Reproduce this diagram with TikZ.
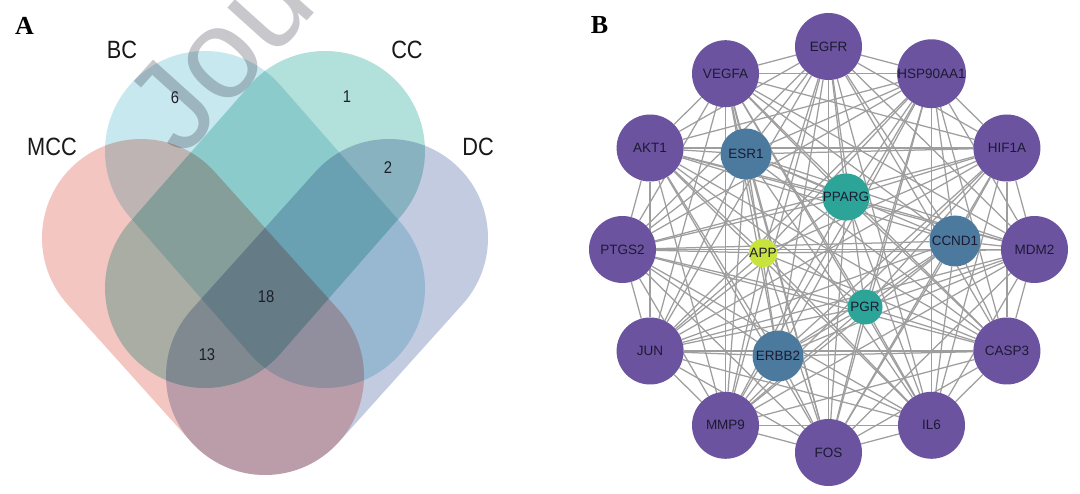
\documentclass[tikz,border=0pt]{standalone}
\usepackage{fontspec}
\setmainfont{Liberation Sans}
\newfontfamily\serifface{Liberation Serif}
\usetikzlibrary{backgrounds}
\definecolor{mccc}{RGB}{244,198,193}
\definecolor{bcc}{RGB}{200,232,239}
\definecolor{ccc}{RGB}{178,224,218}
\definecolor{dcc}{RGB}{195,203,224}
\definecolor{wmc}{RGB}{200,200,204}
\definecolor{numc}{RGB}{30,30,40}
\definecolor{purp}{RGB}{107,83,160}
\definecolor{bluec}{RGB}{75,122,158}
\definecolor{tealc}{RGB}{44,164,152}
\definecolor{appc}{RGB}{200,228,60}
\definecolor{genec}{RGB}{28,26,50}
\definecolor{edgec}{RGB}{158,158,158}
\begin{document}
\begin{tikzpicture}[x=1pt,y=-1pt,
  lab/.style={font=\fontsize{25}{25}\selectfont, text=black!90, inner sep=0pt},
  num/.style={font=\fontsize{17}{17}\selectfont, text=numc, inner sep=0pt},
  panel/.style={font=\serifface\bfseries\fontsize{26}{26}\selectfont, inner sep=0pt},
  venn/.style={line cap=round, blend mode=multiply},
  gene/.style={circle, inner sep=0pt, text=genec, font=\fontsize{13.5}{14}\selectfont},
  hub/.style={gene, fill=purp, minimum size=67pt},
  bluen/.style={gene, fill=bluec, minimum size=51pt},
  tealn/.style={gene, fill=tealc, minimum size=35pt},
  appn/.style={gene, fill=appc, minimum size=22pt},
  edge/.style={draw=edgec, line width=1.25pt}]
\useasboundingbox (0,0) rectangle (1080,494);

% ---------------- Panel A: Venn diagram ----------------
\coordinate (m1) at (141,238); \coordinate (m2) at (265,376);
\coordinate (d1) at (389,238); \coordinate (d2) at (265,376);
\coordinate (b1) at (205,151); \coordinate (b2) at (325,288);
\coordinate (c1) at (325,151); \coordinate (c2) at (205,288);
\draw[venn, draw=mccc, line width=198pt] (m1) -- (m2);
\draw[venn, draw=dcc, line width=198pt] (d1) -- (d2);
\draw[venn, draw=bcc, line width=200pt] (b1) -- (b2);
\draw[venn, draw=ccc, line width=200pt] (c1) -- (c2);

\node[panel] (pa) at (24.5,26) {A};
\node[lab] (lmcc) at (52,147) {\scalebox{0.87}[1]{MCC}};
\node[lab] (lbc) at (122,50) {\scalebox{0.87}[1]{BC}};
\node[lab] (lcc) at (407,50) {\scalebox{0.87}[1]{CC}};
\node[lab] (ldc) at (478,147) {\scalebox{0.87}[1]{DC}};

\begin{scope}[blend mode=multiply]
\node[rotate=48, anchor=base west, text=wmc, inner sep=0pt,
      font=\fontsize{128}{128}\selectfont] (wm) at (182,160) {Journal};
\end{scope}

\node[num] (n6) at (175,98) {\scalebox{0.87}[1]{6}};
\node[num] (n1) at (347,97) {\scalebox{0.87}[1]{1}};
\node[num] (n2) at (388,168) {\scalebox{0.87}[1]{2}};
\node[num] (n18) at (266,297) {\scalebox{0.87}[1]{18}};
\node[num] (n13) at (207,355) {\scalebox{0.87}[1]{13}};

% ---------------- Panel B: network ----------------
\node[panel] (pb) at (599.5,25) {B};
\node[hub] (o1) at (828.5,46.5) {EGFR};
\node[hub] (o2) at (931.5,73.7) {HSP90AA1};
\node[hub] (o3) at (1006.9,148) {HIF1A};
\node[hub] (o4) at (1034.5,249.5) {MDM2};
\node[hub] (o5) at (1006.9,351) {CASP3};
\node[hub] (o6) at (931.5,425.3) {IL6};
\node[hub] (o7) at (828.5,452.5) {FOS};
\node[hub] (o8) at (725.5,425.3) {MMP9};
\node[hub] (o9) at (650.1,351) {JUN};
\node[hub] (o10) at (622.5,249.5) {PTGS2};
\node[hub] (o11) at (650.1,148) {AKT1};
\node[hub] (o12) at (725.5,73.7) {VEGFA};
\node[bluen] (esr) at (746,154) {ESR1};
\node[tealn] (pparg) at (846,197) {PPARG};
\node[bluen] (ccnd) at (955,241) {CCND1};
\node[appn] (app) at (763,253) {APP};
\node[tealn] (pgr) at (865,307) {PGR};
\node[bluen] (erbb) at (778,356) {ERBB2};

\begin{pgfonlayer}{background}
\fill[white] (0,0) rectangle (1080,494);
\foreach \i in {1,...,11}{
  \pgfmathtruncatemacro{\s}{\i+1}
  \foreach \j in {\s,...,12}{\draw[edge] (o\i) -- (o\j);}
}
\foreach \i in {1,...,12}{
  \foreach \n in {esr,pparg,ccnd,app,pgr,erbb}{\draw[edge] (o\i) -- (\n);}
}
\foreach \a/\b in {esr/ccnd,esr/erbb,ccnd/erbb,esr/pparg,ccnd/pgr,erbb/pgr}{\draw[edge] (\a) -- (\b);}
\end{pgfonlayer}
\end{tikzpicture}
\end{document}
